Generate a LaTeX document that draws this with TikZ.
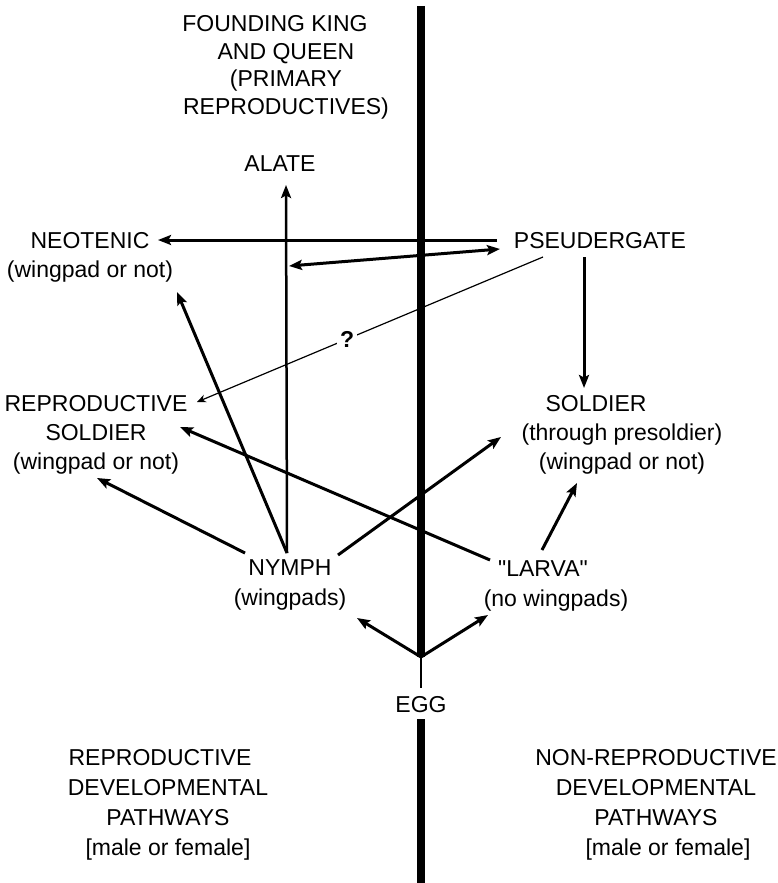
\documentclass[tikz,border=0pt]{standalone}
\usepackage{fontspec}
\setmainfont{Liberation Sans}[Ligatures=TeXOff]
\usetikzlibrary{arrows.meta}
\begin{document}
\begin{tikzpicture}[x=1pt,y=-1pt,
  lbl/.style={font=\fontsize{23}{29}\selectfont, align=center, inner sep=0pt, anchor=base},
  tip/.style={-{Stealth[length=13pt,width=10pt,inset=2.5pt]}},
  arr/.style={line width=3pt, tip},
  darr/.style={line width=3pt, {Stealth[length=13pt,width=10pt,inset=2.5pt]}-{Stealth[length=13pt,width=10pt,inset=2.5pt]}},
  thinarr/.style={line width=1.2pt, -{Stealth[length=9pt,width=8pt,inset=3pt]}},
  axis/.style={line width=8pt},
  qlbl/.style={font=\fontsize{23}{29}\selectfont\bfseries, fill=white, inner sep=3pt}]
\useasboundingbox (0,0) rectangle (777,883);

% text blocks (anchor = baseline of the last line)
\node[lbl, font=\fontsize{23}{27.7}\selectfont] (title) at (286,114.4)
  {FOUNDING KING\hspace*{22pt}\\AND QUEEN\\(PRIMARY\\REPRODUCTIVES)};
\node[lbl] (alate) at (280,171) {ALATE};
\node[lbl] (neo) at (90,277.3) {NEOTENIC\\(wingpad or not)};
\node[lbl] (pseud) at (600,248.3) {PSEUDERGATE};
\node[lbl] (rsol) at (96,469.3) {REPRODUCTIVE\\SOLDIER\\(wingpad or not)};
\node[lbl] (sol) at (622,469.3) {SOLDIER\hspace*{52pt}\\(through presoldier)\\(wingpad or not)};
\node[lbl, font=\fontsize{23}{30}\selectfont] (nymph) at (290,605.3) {NYMPH\\(wingpads)};
\node[lbl, font=\fontsize{23}{30}\selectfont] (larva) at (556,606.3) {"LARVA"\hspace*{26pt}\\(no wingpads)};
\node[lbl] (egg) at (421,712) {EGG};
\node[lbl, font=\fontsize{23}{30}\selectfont] (repL) at (168,855.5)
  {REPRODUCTIVE\hspace*{16pt}\\DEVELOPMENTAL\\PATHWAYS\\{[male or female]}};
\node[lbl, font=\fontsize{23}{30}\selectfont] (repR) at (656,855.5)
  {NON-REPRODUCTIVE\\DEVELOPMENTAL\\PATHWAYS\\\hspace*{24pt}[male or female]};

% dividing axis
\coordinate (top) at (421,6);
\coordinate (jn) at (421,657);
\coordinate (eggT) at (421,688);
\coordinate (eggB) at (421,719);
\coordinate (bot) at (421,883);
\draw[axis] (top) -- (jn);
\draw[line width=2.5pt] (jn) -- (eggT);
\draw[axis] (eggB) -- (bot);

% connector end points
\coordinate (nyTop) at (287,553);
\coordinate (alTip) at (286,185);
\coordinate (neoTip) at (177,292);
\coordinate (nyL) at (245,553);
\coordinate (rsTip1) at (97,478);
\coordinate (nyR) at (338,555);
\coordinate (solTip1) at (501,437);
\coordinate (lvL) at (490,560);
\coordinate (rsTip2) at (180,427);
\coordinate (lvR) at (542,550);
\coordinate (solTip2) at (577,483);
\coordinate (nyTip) at (357,618);
\coordinate (lvTip) at (488,615);
\coordinate (psL) at (497,240);
\coordinate (neoTip2) at (158,240);
\coordinate (vAl) at (289,266);
\coordinate (psTip) at (500,249);
\coordinate (psS) at (543,257);
\coordinate (rsTip3) at (197,402);
\coordinate (psD) at (584,257);
\coordinate (solTop) at (584,388);

% connectors
\draw[arr, line width=2.5pt] (nyTop) -- (alTip);
\draw[arr] (nyTop) -- (neoTip);
\draw[arr] (nyL) -- (rsTip1);
\draw[arr] (nyR) -- (solTip1);
\draw[arr] (lvL) -- (rsTip2);
\draw[arr] (lvR) -- (solTip2);
\draw[arr] (jn) -- (nyTip);
\draw[arr] (jn) -- (lvTip);
\draw[arr] (psL) -- (neoTip2);
\draw[darr] (vAl) -- (psTip);
\draw[arr] (psD) -- (solTop);
\draw[thinarr] (psS) -- node[qlbl, pos=0.566] (q) {?} (rsTip3);
\end{tikzpicture}
\end{document}
